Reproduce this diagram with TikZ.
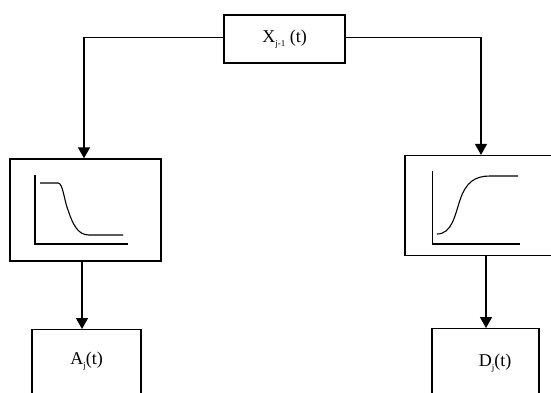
\documentclass[tikz,border=0pt]{standalone}
\usepackage{fontspec}
\setmainfont{Liberation Serif}
\usetikzlibrary{arrows.meta}
\newcommand{\lowsub}[1]{\raisebox{-3.5pt}{\fontsize{9}{9}\selectfont #1}}
\begin{document}
\begin{tikzpicture}[x=1pt,y=-1pt,
  box/.style={draw, line width=1.4pt, inner sep=0pt},
  arr/.style={line width=1.5pt, -{Triangle[length=11pt,width=12pt]}},
  axisline/.style={line width=1.3pt},
  curveline/.style={line width=1.1pt},
  lbl/.style={font=\fontsize{18}{21}\selectfont}]
\useasboundingbox (0,0) rectangle (551,392);
\clip (0,0) rectangle (551,392);

\node[box, minimum width=121pt, minimum height=48pt, lbl] (X) at (284.5,39) {X\lowsub{j-1} (t)};
\node[box, minimum width=151pt, minimum height=102pt] (L) at (85.5,210) {};
\node[box, minimum width=152pt, minimum height=100pt] (R) at (481,205.6) {};
\node[box, anchor=north, minimum width=109pt, text height=35pt, text depth=45pt, lbl] (A) at (86.5,329) {A\lowsub{j}(t)};
\node[box, anchor=north, minimum width=107pt, text height=38pt, text depth=45pt, lbl] (D) at (485.5,328) {\hspace*{19pt}D\lowsub{j}(t)};

\draw[arr] ([yshift=1.5pt]X.west) -| ([xshift=-1.5pt]L.north);
\draw[arr] ([yshift=1.5pt]X.east) -| (R.north);
\draw[arr] ([xshift=-3.5pt]L.south) -- ([xshift=-4.5pt]A.north);
\draw[arr] ([xshift=5pt]R.south) -- ([xshift=0.5pt]D.north);

% left graph: decreasing sigmoid
\draw[axisline] (35,175) -- (35,244) -- (128,244);
\draw[curveline] (40,183) -- (58,183) .. controls (63,183) and (64,200) .. (68,210)
  .. controls (73,225) and (78,235) .. (89,235) -- (123,235);

% right graph: increasing sigmoid
\draw[axisline] (432.7,171) -- (432.7,244) -- (520,244);
\draw[curveline] (437,234) .. controls (452,234) and (455,215) .. (460,200)
  .. controls (466,182) and (475,176) .. (490,176) -- (518,176);
\end{tikzpicture}
\end{document}
